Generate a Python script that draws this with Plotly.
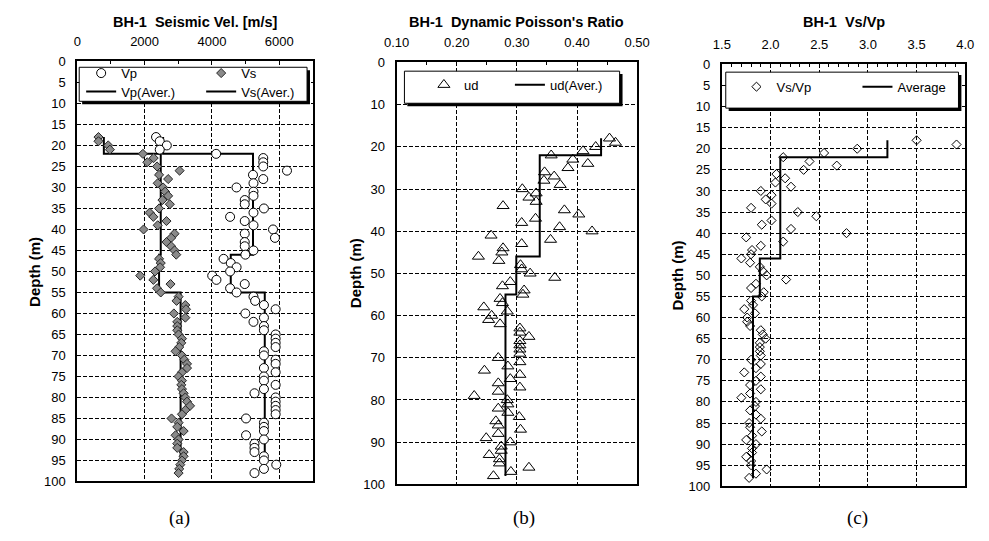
import plotly.graph_objects as go

W, H = 989, 541

# ---------------- data ----------------
depth = list(range(18, 99))

vp = [2340, 2450, 2660, 2450, 4125, 5525, 5525, 5525, 6230, 5220,
      5525, 5235, 4730, 5235, 5235, 4975, 4975, 5545, 5235, 4540,
      4975, 5235, 5815, 4975, 5873, 4975, 4975, 5235, 4994, 4347,
      4560, 4733, 4540, 4009, 4134, 4975, 4540, 4733, 5235, 5284,
      5545, 5893, 4994, 5545, 5235, 5545, 5545, 5893, 5893, 5893,
      5893, 5545, 5545, 5893, 5893, 5545, 5893, 5545, 5545, 5893,
      5545, 5265, 5893, 5893, 5893, 5893, 5893, 5014, 5545, 5545,
      5545, 5014, 5545, 5265, 5265, 5265, 5545, 5545, 5912, 5545,
      5265]

vs = [630, 630, 920, 970, 1950, 2270, 2080, 2370, 3040, 2430,
      2700, 2390, 2550, 2610, 2700, 2530, 2750, 2430, 2150, 2260,
      2650, 2390, 1970, 2890, 2790, 2650, 2790, 2890, 2940, 2430,
      2480, 2460, 2310, 1870, 2260, 2770, 2370, 2480, 3010, 2950,
      3210, 3230, 2870, 3210, 2970, 2970, 2970, 3010, 3110, 3090,
      3030, 2920, 3110, 3180, 3260, 3260, 3110, 3010, 3110, 3090,
      3110, 3160, 3210, 3260, 3350, 3210, 3110, 2800, 3010, 2970,
      3160, 2920, 3010, 2970, 2970, 3160, 3160, 3110, 3060, 3030,
      3010]

ud = [0.454, 0.464, 0.431, 0.410, 0.357, 0.393, 0.418, 0.385, 0.346, 0.362,
      0.345, 0.372, 0.309, 0.332, 0.320, 0.332, 0.277, 0.379, 0.403, 0.331,
      0.308, 0.371, 0.425, 0.257, 0.356, 0.308, 0.277, 0.275, 0.236, 0.270,
      0.306, 0.308, 0.322, 0.363, 0.289, 0.276, 0.312, 0.310, 0.272, 0.276,
      0.245, 0.284, 0.258, 0.253, 0.272, 0.305, 0.305, 0.320, 0.305, 0.305,
      0.305, 0.305, 0.269, 0.305, 0.285, 0.246, 0.305, 0.289, 0.269, 0.305,
      0.269, 0.229, 0.284, 0.285, 0.269, 0.285, 0.304, 0.265, 0.269, 0.306,
      0.269, 0.249, 0.289, 0.274, 0.274, 0.254, 0.271, 0.271, 0.320, 0.290,
      0.261]

ratio = [3.50, 3.91, 2.89, 2.55, 2.13, 2.40, 2.68, 2.34, 2.06, 2.15,
         2.05, 2.21, 1.90, 2.01, 1.95, 2.01, 1.80, 2.28, 2.47, 2.01,
         1.91, 2.21, 2.78, 1.75, 2.13, 1.90, 1.81, 1.80, 1.70, 1.79,
         1.89, 1.92, 1.96, 2.16, 1.85, 1.80, 1.93, 1.91, 1.80, 1.82,
         1.73, 1.84, 1.76, 1.76, 1.79, 1.90, 1.92, 1.95, 1.89, 1.89,
         1.89, 1.90, 1.80, 1.90, 1.85, 1.73, 1.90, 1.85, 1.79, 1.90,
         1.79, 1.70, 1.85, 1.84, 1.79, 1.85, 1.90, 1.78, 1.79, 1.91,
         1.81, 1.75, 1.85, 1.81, 1.81, 1.75, 1.80, 1.80, 1.96, 1.85,
         1.78]

layer_top = [18, 22, 46, 55]
layer_bot = [22, 46, 55, 98]
vp_avg = [2550, 5220, 4560, 5570]
vs_avg = [790, 2480, 2430, 3070]
ud_avg = [0.440, 0.338, 0.299, 0.281]
ratio_avg = [3.20, 2.10, 1.89, 1.82]

titles = ["BH-1&nbsp; Seismic Vel. [m/s]", "BH-1&nbsp; Dynamic Poisson's Ratio", "BH-1&nbsp; Vs/Vp"]
captions = ["(a)", "(b)", "(c)"]


def step(vals):
    xs, ys = [], []
    for v, t, b in zip(vals, layer_top, layer_bot):
        xs += [v, v]
        ys += [t, b]
    return xs, ys


def px(x):
    return x / W


def py(y):
    return 1 - y / H


FONT = "Liberation Sans, Arial, sans-serif"
fig = go.Figure()

# ---- panel (a)
x, y = step(vp_avg)
fig.add_trace(go.Scatter(x=x, y=y, mode="lines", name="Vp(Aver.)", line=dict(color="black", width=2),
                         xaxis="x", yaxis="y", legend="legend2", legendwidth=75))
x, y = step(vs_avg)
fig.add_trace(go.Scatter(x=x, y=y, mode="lines", name="Vs(Aver.)", line=dict(color="black", width=2),
                         xaxis="x", yaxis="y", legend="legend2", legendwidth=75))
fig.add_trace(go.Scatter(x=vp, y=depth, mode="markers", name="Vp",
                         marker=dict(symbol="circle", size=9, color="white", line=dict(color="black", width=1)),
                         xaxis="x", yaxis="y", legend="legend", legendwidth=75))
fig.add_trace(go.Scatter(x=vs, y=depth, mode="markers", name="Vs",
                         marker=dict(symbol="diamond", size=7, color="#8a8a8a", line=dict(color="#262626", width=1)),
                         xaxis="x", yaxis="y", legend="legend", legendwidth=75))

# ---- panel (b)
fig.add_trace(go.Scatter(x=ud, y=depth, mode="markers", name="ud",
                         marker=dict(symbol="triangle-up-open", size=10.5, color="black", line=dict(width=1)),
                         xaxis="x2", yaxis="y2", legend="legend3", legendwidth=41))
x, y = step(ud_avg)
fig.add_trace(go.Scatter(x=x, y=y, mode="lines", name="ud(Aver.)", line=dict(color="black", width=2),
                         xaxis="x2", yaxis="y2", legend="legend3", legendwidth=75))

# ---- panel (c)
fig.add_trace(go.Scatter(x=ratio, y=depth, mode="markers", name="Vs/Vp",
                         marker=dict(symbol="diamond-open", size=7, color="black", line=dict(width=1)),
                         xaxis="x3", yaxis="y3", legend="legend4", legendwidth=76))
x, y = step(ratio_avg)
fig.add_trace(go.Scatter(x=x, y=y, mode="lines", name="Average", line=dict(color="black", width=2),
                         xaxis="x3", yaxis="y3", legend="legend4", legendwidth=76))

grid = dict(showgrid=True, gridcolor="#000", gridwidth=1, griddash="4px,2px", zeroline=False,
            showline=True, mirror=True, linecolor="black", linewidth=2,
            tickfont=dict(family=FONT, size=13, color="black"))

doms = [((66, 308), (56, 488)), ((394, 641), (57, 491)), ((728, 978), (59, 493))]
xr = [(0, 7000, 2000, None, 1000), (0.1, 0.5, 0.1, ".2f", 0.05), (1.5, 4.0, 0.5, ".1f", 0.1)]
ydt = [5, 10, 5]

layout = dict(width=W, height=H, margin=dict(l=0, r=0, t=0, b=0),
              paper_bgcolor="white", plot_bgcolor="white", font=dict(family=FONT, color="black"))
for i in range(3):
    sx = "" if i == 0 else str(i + 1)
    (x0, x1), (y0, y1) = doms[i]
    r0, r1, dt, fmt, mdt = xr[i]
    xa = dict(grid, domain=[px(x0), px(x1)], range=[r0, r1], dtick=dt, tick0=r0, side="top",
              anchor="y" + sx, ticks="inside", ticklen=4, tickcolor="black", ticklabelstandoff=8,
              minor=dict(dtick=mdt, tick0=r0, ticks="inside", ticklen=3, tickcolor="black", showgrid=False))
    if fmt:
        xa["tickformat"] = fmt
    ya = dict(grid, domain=[py(y1), py(y0)], range=[100, 0], dtick=ydt[i], tick0=0, ticks="",
              anchor="x" + sx, ticklabelstandoff=7)
    layout["xaxis" + sx] = xa
    layout["yaxis" + sx] = ya

# legends (manual row placement)
leg_common = dict(orientation="h", xanchor="left", yanchor="middle", entrywidthmode="pixels",
                  bgcolor="rgba(0,0,0,0)", borderwidth=0, font=dict(family=FONT, size=13, color="black"))
layout["legend"] = dict(leg_common, x=px(70), y=py(68))
layout["legend2"] = dict(leg_common, x=px(70), y=py(87))
layout["legend3"] = dict(leg_common, x=px(422), y=py(80))
layout["legend4"] = dict(leg_common, x=px(743), y=py(82))

# legend boxes with drop shadow
boxes = [(68, 62, 302, 97), (402, 66, 623, 99), (732, 67, 971, 104)]
shapes = []
for (bx0, by0, bx1, by1) in boxes:
    shapes.append(dict(type="rect", xref="paper", yref="paper", layer="above",
                       x0=px(bx0 + 3), x1=px(bx1 + 3), y0=py(by1 + 3), y1=py(by0 + 3),
                       fillcolor="black", line=dict(width=0)))
    shapes.append(dict(type="rect", xref="paper", yref="paper", layer="above",
                       x0=px(bx0), x1=px(bx1), y0=py(by1), y1=py(by0),
                       fillcolor="white", line=dict(color="black", width=1)))
layout["shapes"] = shapes

ann = []
centers = [187, 517, 853]
for i in range(3):
    ann.append(dict(text="<b>%s</b>" % titles[i], x=px(centers[i]), y=py(15), xref="paper", yref="paper",
                    showarrow=False, xanchor="center", yanchor="middle",
                    font=dict(family=FONT, size=14.5, color="black")))
cap_x = [171, 525, 867]
for i in range(3):
    ann.append(dict(text=captions[i], x=px(cap_x[i]), y=py(526), xref="paper", yref="paper",
                    showarrow=False, xanchor="center", yanchor="middle",
                    font=dict(family="Liberation Serif, serif", size=19, color="black")))
ytx = [22, 352, 682]
ymid = [272, 274, 276]
for i in range(3):
    ann.append(dict(text="<b>Depth (m)</b>", x=px(ytx[i]), y=py(ymid[i]), xref="paper", yref="paper",
                    showarrow=False, textangle=-90, xanchor="center", yanchor="middle",
                    font=dict(family=FONT, size=15, color="black")))
layout["annotations"] = ann

fig.update_layout(**layout)
fig.write_html("out.html")
